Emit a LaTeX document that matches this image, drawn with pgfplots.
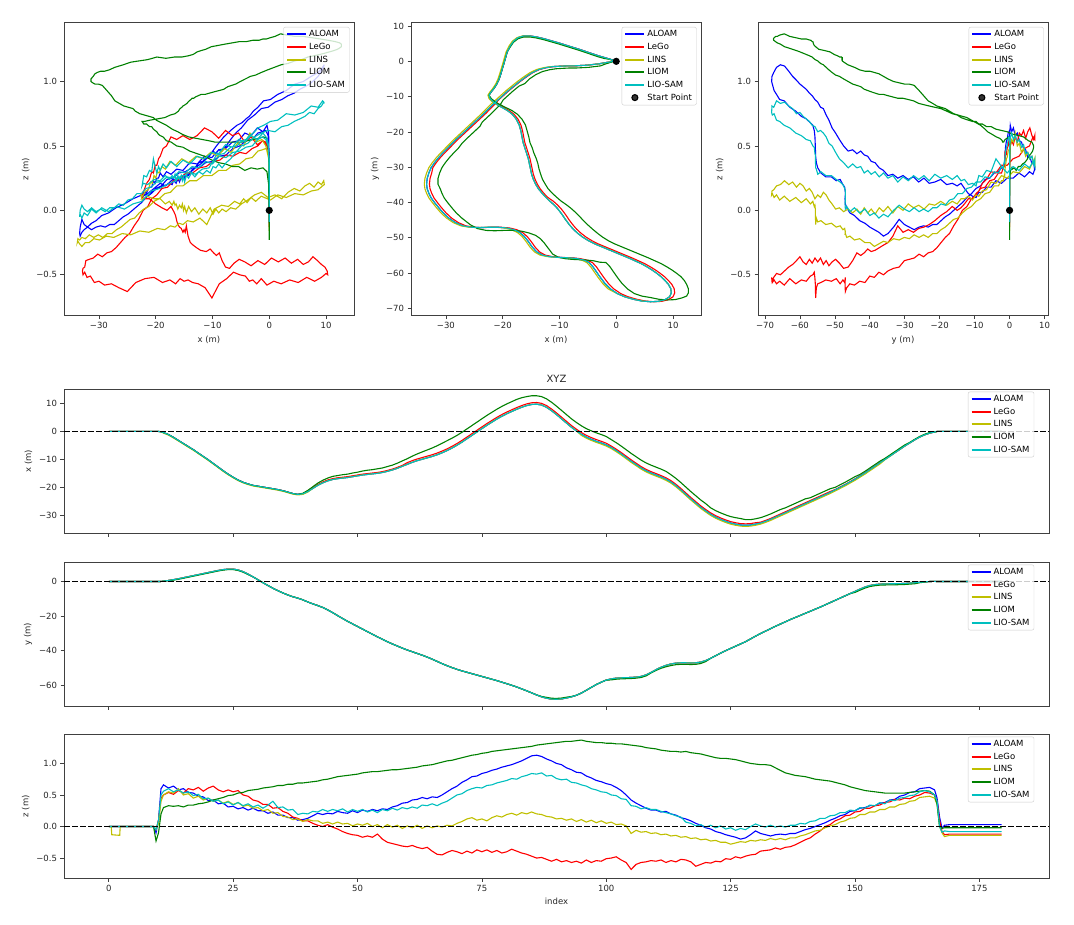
\documentclass[border=0pt]{standalone}
\usepackage{fontspec}
\setmainfont{DejaVu Sans}
\usepackage{pgfplots}
\usepackage{pgfplotstable}
\pgfplotsset{compat=1.18}
\definecolor{cA}{HTML}{0000FF}
\definecolor{cG}{HTML}{FF0000}
\definecolor{cS}{HTML}{BFBF00}
\definecolor{cM}{HTML}{008000}
\definecolor{cC}{HTML}{00BFBF}

\pgfplotstableread{
t x y xg xs xm ym za zg zs zm zc
0 0 0 0 0 0 0 0 0 0 0 0
0.5 0 0 0 0 0 0 0 0 0 0 0
0.6 0 0 0 0 0 0 0 0 -0.13 0 0
2.2 0 0 0 0 0 0 0 0 -0.14 0 0
2.3 0 0 0 0 0 0 0 0 0 0 0
9 0 0 0 0 0 0 0 0 0 0 0
9.5 0 0 0 0 0 0 -0.1 -0.05 -0.05 -0.23 -0.05
10 0 0 0 0 0 0 0.1 0.1 0.05 -0.1 0.1
10.5 -0.1 0.05 -0.1 -0.1 -0.1 0.05 0.6 0.45 0.4 0.2 0.5
11 -0.4 0.2 -0.4 -0.6 -0.4 0.2 0.66 0.5 0.5 0.3 0.56
12 -1.1 0.6 -1.1 -1.3 -1.1 0.6 0.61 0.54 0.55 0.33 0.6
13 -2.1 1.1 -2.1 -2.3 -2.1 0.8 0.64 0.51 0.53 0.32 0.55
14 -3.2 1.6 -3.2 -3.4 -3.2 1.3 0.58 0.57 0.6 0.33 0.58
15 -4.3 2.2 -4.3 -4.5 -4.3 1.9 0.6 0.53 0.5 0.31 0.53
16 -5.4 2.8 -5.4 -5.6 -5.4 2.5 0.54 0.6 0.52 0.34 0.55
17 -6.5 3.4 -6.5 -6.7 -6.5 3.1 0.53 0.58 0.45 0.34 0.49
18 -7.7 4.0 -7.7 -7.9 -7.7 3.7 0.48 0.62 0.48 0.36 0.51
19 -8.9 4.6 -8.9 -9.1 -8.9 4.3 0.47 0.56 0.42 0.37 0.44
20 -10.1 5.2 -10.1 -10.3 -10.1 4.9 0.41 0.61 0.45 0.39 0.45
21 -11.4 5.8 -11.4 -11.6 -11.4 5.5 0.42 0.64 0.4 0.42 0.4
22 -12.7 6.4 -12.7 -12.9 -12.7 6.1 0.36 0.58 0.42 0.44 0.42
23 -14.0 6.9 -14.0 -14.2 -14.0 6.6 0.37 0.55 0.37 0.46 0.36
24 -15.2 7.2 -15.2 -15.4 -15.2 6.9 0.31 0.58 0.4 0.49 0.39
25 -16.3 7.2 -16.3 -16.5 -16.3 6.9 0.32 0.55 0.35 0.5 0.34
26 -17.3 6.7 -17.3 -17.5 -17.3 6.4 0.28 0.57 0.38 0.53 0.38
27 -18.1 5.7 -18.1 -18.3 -18.1 5.4 0.3 0.5 0.32 0.54 0.33
28 -18.7 4.3 -18.7 -18.9 -18.7 4.0 0.26 0.48 0.34 0.57 0.36
29 -19.2 2.7 -19.2 -19.4 -19.2 2.7 0.29 0.42 0.29 0.58 0.31
30 -19.5 1.0 -19.5 -19.7 -19.5 1.0 0.25 0.4 0.3 0.59 0.34
31 -19.8 -0.7 -19.8 -20.0 -19.8 -0.7 0.25 0.35 0.25 0.61 0.29
32 -20.1 -2.3 -20.1 -20.3 -20.1 -2.3 0.21 0.35 0.27 0.62 0.34
33 -20.4 -3.9 -20.4 -20.6 -20.4 -3.9 0.23 0.29 0.21 0.63 0.4
34 -20.7 -5.3 -20.7 -20.9 -20.7 -5.3 0.18 0.3 0.22 0.65 0.3
35 -21.1 -6.6 -21.1 -21.3 -21.1 -6.6 0.18 0.24 0.16 0.65 0.31
36 -21.6 -7.8 -21.6 -21.8 -21.6 -7.8 0.14 0.21 0.15 0.67 0.26
37 -22.1 -8.8 -22.1 -22.3 -22.1 -8.8 0.14 0.15 0.11 0.67 0.27
38 -22.4 -9.6 -22.4 -22.6 -22.4 -9.6 0.1 0.13 0.12 0.69 0.19
39 -22.2 -10.6 -22.2 -22.4 -22.0 -10.6 0.11 0.09 0.08 0.69 0.21
40 -21.4 -11.8 -21.1 -21.6 -21.0 -11.8 0.13 0.09 0.11 0.7 0.2
41 -20.3 -12.9 -20.0 -20.3 -19.7 -12.9 0.17 0.05 0.09 0.71 0.24
42 -19.2 -13.9 -18.9 -19.2 -18.4 -13.9 0.21 0.02 0.09 0.72 0.23
43 -18.3 -15.0 -18.0 -18.3 -17.4 -15.0 0.19 0.0 0.05 0.74 0.27
44 -17.6 -16.4 -17.3 -17.6 -16.6 -16.4 0.21 0.03 0.07 0.75 0.24
45 -17.1 -18.0 -16.8 -17.1 -16.0 -18.0 0.2 -0.01 0.04 0.77 0.27
46 -16.8 -19.7 -16.5 -16.8 -15.7 -19.7 0.24 -0.04 0.07 0.79 0.25
47 -16.6 -21.4 -16.3 -16.6 -15.4 -21.4 0.22 -0.08 0.04 0.8 0.28
48 -16.4 -23.0 -16.1 -16.4 -15.2 -23.0 0.21 -0.11 0.05 0.81 0.23
49 -16.1 -24.5 -15.8 -16.1 -14.8 -24.5 0.25 -0.13 0.01 0.82 0.27
50 -15.8 -26.0 -15.5 -15.8 -14.5 -26.0 0.22 -0.14 0.04 0.83 0.24
51 -15.5 -27.5 -15.2 -15.5 -14.1 -27.5 0.26 -0.17 0.02 0.85 0.27
52 -15.3 -29.0 -15.0 -15.3 -13.8 -29.0 0.24 -0.15 0.05 0.86 0.23
53 -15.1 -30.5 -14.8 -15.1 -13.6 -30.5 0.27 -0.17 0.0 0.87 0.26
54 -14.9 -32.0 -14.6 -14.9 -13.3 -32.0 0.25 -0.12 0.03 0.87 0.22
55 -14.6 -33.4 -14.3 -14.6 -13.0 -33.4 0.28 -0.2 -0.02 0.88 0.27
56 -14.2 -34.8 -13.9 -14.2 -12.5 -34.8 0.27 -0.25 0.03 0.89 0.25
57 -13.7 -36.1 -13.4 -13.7 -12.0 -36.1 0.31 -0.27 -0.01 0.9 0.29
58 -13.1 -37.3 -12.8 -13.1 -11.3 -37.3 0.33 -0.29 0.02 0.9 0.26
59 -12.4 -38.5 -12.1 -12.4 -10.5 -38.5 0.37 -0.31 -0.03 0.91 0.3
60 -11.7 -39.6 -11.1 -11.7 -9.7 -39.6 0.38 -0.32 0.01 0.92 0.28
61 -11.0 -40.6 -10.4 -11.0 -8.8 -40.6 0.42 -0.3 -0.02 0.93 0.31
62 -10.4 -41.6 -9.8 -10.4 -8.0 -41.6 0.43 -0.33 0.02 0.94 0.29
63 -9.9 -42.6 -9.3 -9.9 -7.3 -42.6 0.46 -0.35 -0.03 0.96 0.34
64 -9.4 -43.7 -8.8 -9.4 -6.6 -43.7 0.44 -0.33 0.01 0.97 0.33
65 -8.9 -44.9 -8.3 -8.9 -5.9 -44.9 0.47 -0.39 -0.02 0.98 0.36
66 -8.3 -46.2 -7.7 -8.3 -5.1 -46.2 0.46 -0.44 0.01 1.0 0.33
67 -7.6 -47.5 -7.0 -7.6 -4.2 -47.5 0.5 -0.45 -0.01 1.02 0.37
68 -6.8 -48.7 -6.2 -6.8 -3.3 -48.7 0.55 -0.41 0.02 1.04 0.4
69 -5.9 -49.8 -5.3 -5.9 -2.4 -49.8 0.6 -0.38 0.01 1.05 0.45
70 -4.9 -50.8 -4.3 -4.9 -1.4 -50.8 0.64 -0.4 0.05 1.07 0.5
71 -3.8 -51.7 -3.2 -3.8 -0.3 -51.7 0.7 -0.43 0.08 1.09 0.52
72 -2.6 -52.5 -2.0 -2.6 0.9 -52.5 0.74 -0.39 0.12 1.11 0.57
73 -1.4 -53.3 -0.8 -1.4 2.1 -53.3 0.79 -0.42 0.14 1.13 0.6
74 -0.2 -54.1 0.4 -0.2 3.3 -54.1 0.8 -0.37 0.1 1.14 0.62
75 1.0 -54.9 1.6 1.0 4.5 -54.9 0.84 -0.4 0.12 1.16 0.61
76 2.2 -55.7 2.8 2.2 5.7 -55.7 0.86 -0.37 0.09 1.17 0.65
77 3.3 -56.5 3.9 3.3 6.8 -56.5 0.89 -0.41 0.14 1.19 0.66
78 4.4 -57.3 5.0 4.4 7.9 -57.3 0.91 -0.38 0.17 1.2 0.69
79 5.4 -58.2 6.0 5.4 8.9 -58.2 0.94 -0.42 0.15 1.21 0.71
80 6.3 -59.1 6.9 6.3 9.8 -59.1 0.96 -0.4 0.19 1.22 0.73
81 7.1 -60.0 7.7 7.1 10.6 -60.0 0.98 -0.36 0.21 1.23 0.76
82 7.9 -61.0 8.5 7.9 11.4 -61.0 1.01 -0.39 0.18 1.24 0.75
83 8.6 -62.1 9.2 8.6 12.0 -62.1 1.04 -0.42 0.22 1.25 0.79
84 9.2 -63.2 9.8 9.2 12.4 -63.2 1.08 -0.44 0.2 1.26 0.81
85 9.6 -64.4 10.2 9.6 12.7 -64.4 1.12 -0.47 0.23 1.27 0.84
86 9.7 -65.6 10.3 9.7 12.7 -65.6 1.13 -0.5 0.2 1.29 0.83
87 9.4 -66.7 10.0 9.4 12.4 -66.5 1.11 -0.49 0.19 1.3 0.85
88 8.6 -67.5 9.2 8.6 11.6 -67.0 1.07 -0.52 0.16 1.31 0.8
89 7.4 -68.0 8.0 7.4 10.4 -67.5 1.04 -0.55 0.15 1.32 0.81
90 6.0 -68.1 6.6 6.0 9.0 -67.6 1.0 -0.52 0.12 1.33 0.76
91 4.5 -67.9 5.1 4.5 7.5 -67.4 0.98 -0.56 0.13 1.34 0.74
92 3.0 -67.4 3.6 3.0 6.0 -66.9 0.93 -0.54 0.1 1.35 0.75
93 1.5 -66.7 2.1 1.5 4.5 -66.5 0.9 -0.57 0.12 1.35 0.7
94 0.2 -65.8 0.8 0.2 3.2 -65.8 0.86 -0.55 0.08 1.36 0.69
95 -1.0 -64.5 -0.4 -1.4 2.0 -64.5 0.85 -0.58 0.11 1.37 0.66
96 -2.0 -62.9 -1.4 -2.4 1.0 -62.9 0.8 -0.53 0.07 1.35 0.64
97 -2.8 -61.2 -2.2 -3.2 0.2 -61.2 0.77 -0.57 0.1 1.34 0.6
98 -3.5 -59.6 -2.9 -3.9 -0.5 -59.6 0.73 -0.54 0.06 1.33 0.58
99 -4.1 -58.2 -3.5 -4.5 -1.1 -58.2 0.71 -0.55 0.09 1.33 0.55
100 -4.8 -57.0 -4.2 -5.2 -1.8 -57.0 0.68 -0.51 0.05 1.32 0.54
101 -5.7 -56.3 -5.2 -6.1 -2.9 -56.9 0.66 -0.5 0.07 1.32 0.5
102 -6.8 -55.9 -6.3 -7.2 -4.0 -56.5 0.62 -0.48 0.03 1.31 0.49
103 -8.0 -55.7 -7.5 -8.4 -5.2 -56.3 0.57 -0.53 0.04 1.31 0.44
104 -9.3 -55.6 -8.8 -9.7 -6.5 -56.2 0.5 -0.57 0.01 1.3 0.43
105 -10.6 -55.5 -10.1 -11.0 -7.8 -56.1 0.42 -0.68 -0.11 1.29 0.33
106 -11.8 -55.3 -11.3 -12.2 -9.0 -55.9 0.37 -0.6 -0.06 1.28 0.32
107 -13.0 -54.9 -12.5 -13.4 -10.2 -55.5 0.33 -0.57 -0.09 1.27 0.28
108 -14.0 -54.0 -13.5 -14.4 -11.2 -54.6 0.29 -0.56 -0.08 1.25 0.3
109 -14.8 -52.6 -14.3 -15.2 -12.0 -52.9 0.26 -0.54 -0.11 1.24 0.27
110 -15.5 -51.0 -15.0 -15.9 -12.7 -51.4 0.26 -0.55 -0.1 1.23 0.27
111 -16.2 -49.6 -15.7 -16.6 -13.4 -50.2 0.23 -0.53 -0.13 1.21 0.24
112 -17.0 -48.5 -16.5 -17.4 -14.2 -49.3 0.24 -0.57 -0.12 1.2 0.22
113 -18.0 -47.7 -17.5 -18.4 -15.4 -48.6 0.2 -0.54 -0.15 1.19 0.2
114 -19.3 -47.2 -18.8 -19.7 -16.7 -48.1 0.18 -0.56 -0.14 1.19 0.17
115 -20.8 -47.0 -20.3 -21.2 -18.2 -47.9 0.14 -0.52 -0.17 1.18 0.15
116 -22.4 -47.0 -21.9 -22.8 -19.8 -47.9 0.12 -0.53 -0.16 1.19 0.07
117 -24.0 -47.1 -23.5 -24.4 -21.4 -48.0 0.09 -0.56 -0.19 1.17 0.05
118 -25.5 -47.0 -25.0 -25.9 -22.9 -47.9 0.05 -0.63 -0.18 1.16 0.01
119 -27.0 -46.6 -26.5 -27.4 -24.4 -47.4 0.02 -0.6 -0.21 1.15 0.03
120 -28.3 -45.7 -27.8 -28.7 -25.7 -46.3 -0.02 -0.57 -0.2 1.13 -0.01
121 -29.5 -44.4 -29.0 -29.9 -27.2 -44.4 -0.04 -0.58 -0.23 1.11 0.02
122 -30.5 -42.9 -30.0 -30.9 -28.2 -42.9 -0.08 -0.55 -0.22 1.09 -0.02
123 -31.3 -41.4 -30.8 -31.7 -29.0 -41.4 -0.1 -0.56 -0.25 1.08 0.01
124 -32.0 -40.0 -31.5 -32.4 -29.7 -40.0 -0.13 -0.51 -0.25 1.08 -0.04
125 -32.6 -38.7 -32.1 -33.0 -30.3 -38.7 -0.15 -0.52 -0.28 1.07 -0.02
126 -33.0 -37.4 -32.5 -33.4 -30.7 -37.4 -0.17 -0.48 -0.26 1.06 -0.06
127 -33.3 -36.1 -32.8 -33.7 -31.0 -36.1 -0.2 -0.5 -0.24 1.04 -0.03
128 -33.4 -34.8 -32.9 -33.8 -31.4 -34.8 -0.18 -0.47 -0.25 1.02 -0.05
129 -33.3 -33.2 -32.8 -33.7 -31.4 -33.2 -0.13 -0.45 -0.22 1.0 0.0
130 -33.0 -31.6 -32.5 -33.4 -31.1 -31.6 -0.07 -0.44 -0.23 0.99 0.04
131 -32.6 -30.1 -32.3 -33.0 -30.7 -30.1 -0.11 -0.39 -0.21 0.98 0.01
132 -32.0 -28.7 -31.7 -32.4 -30.1 -28.7 -0.13 -0.38 -0.22 0.98 -0.01
133 -31.3 -27.3 -31.0 -31.7 -29.4 -27.3 -0.15 -0.37 -0.19 0.97 0.02
134 -30.5 -25.9 -30.2 -30.9 -28.6 -25.9 -0.13 -0.34 -0.21 0.93 -0.01
135 -29.7 -24.6 -29.4 -30.1 -27.8 -24.6 -0.12 -0.36 -0.19 0.89 0.01
136 -28.9 -23.3 -28.6 -29.3 -27.2 -23.3 -0.13 -0.33 -0.21 0.85 -0.01
137 -28.1 -22.0 -27.8 -28.5 -26.4 -22.0 -0.11 -0.32 -0.18 0.83 0.02
138 -27.3 -20.8 -27.0 -27.7 -25.6 -20.8 -0.11 -0.29 -0.18 0.81 0.02
139 -26.5 -19.6 -26.2 -26.9 -24.8 -19.6 -0.08 -0.25 -0.15 0.8 0.05
140 -25.7 -18.4 -25.4 -26.1 -24.0 -18.4 -0.05 -0.21 -0.13 0.79 0.04
141 -24.9 -17.2 -24.6 -25.3 -23.6 -17.2 -0.03 -0.18 -0.1 0.77 0.08
142 -24.1 -16.0 -23.8 -24.5 -22.8 -16.0 0.0 -0.12 -0.07 0.75 0.09
143 -23.3 -14.8 -23.0 -23.7 -22.0 -14.8 0.03 -0.07 -0.06 0.74 0.13
144 -22.5 -13.5 -22.2 -22.9 -21.2 -13.5 0.06 0.0 -0.02 0.73 0.13
145 -21.7 -12.2 -21.4 -22.1 -20.4 -12.2 0.1 0.03 0.01 0.72 0.17
146 -20.8 -10.9 -20.7 -21.2 -19.9 -10.9 0.13 0.09 0.03 0.7 0.18
147 -19.9 -9.6 -19.8 -20.3 -19.0 -9.6 0.17 0.12 0.07 0.68 0.22
148 -19.0 -8.3 -18.9 -19.4 -18.1 -8.3 0.19 0.17 0.09 0.66 0.22
149 -18.0 -7.0 -17.9 -18.4 -17.1 -7.0 0.24 0.18 0.13 0.63 0.26
150 -17.0 -5.7 -16.9 -17.4 -16.1 -6.3 0.25 0.23 0.14 0.61 0.25
151 -15.9 -4.4 -15.8 -16.3 -15.3 -5.0 0.29 0.24 0.19 0.59 0.3
152 -14.8 -3.2 -14.7 -15.2 -14.2 -3.8 0.3 0.29 0.19 0.57 0.29
153 -13.6 -2.3 -13.5 -14.0 -13.0 -2.9 0.33 0.29 0.23 0.56 0.34
154 -12.4 -1.8 -12.3 -12.8 -11.8 -2.4 0.33 0.33 0.23 0.55 0.33
155 -11.2 -1.5 -11.1 -11.6 -10.6 -2.1 0.37 0.34 0.27 0.54 0.38
156 -10.0 -1.4 -9.9 -10.1 -9.6 -2.0 0.38 0.38 0.27 0.53 0.36
157 -8.8 -1.3 -8.7 -8.9 -8.4 -1.9 0.42 0.39 0.31 0.53 0.42
158 -7.6 -1.3 -7.6 -7.6 -7.2 -1.9 0.43 0.43 0.31 0.53 0.41
159 -6.4 -1.2 -6.4 -6.4 -6.0 -1.8 0.48 0.42 0.35 0.53 0.45
160 -5.2 -1.1 -5.2 -5.2 -4.8 -1.7 0.5 0.45 0.36 0.53 0.46
161 -4.1 -0.9 -4.1 -4.1 -3.9 -1.5 0.54 0.44 0.4 0.54 0.49
162 -3.0 -0.7 -3.0 -3.0 -2.8 -1.3 0.55 0.48 0.41 0.55 0.5
163 -2.0 -0.4 -2.0 -2.0 -1.8 -0.7 0.6 0.5 0.46 0.56 0.55
164 -1.2 -0.2 -1.2 -1.2 -1.0 -0.3 0.61 0.54 0.47 0.57 0.57
165 -0.6 0.0 -0.6 -0.6 -0.4 0.0 0.62 0.53 0.48 0.56 0.55
166 -0.2 0.1 -0.2 -0.2 -0.2 0.1 0.58 0.5 0.45 0.5 0.5
166.5 0 0 0 0 0 0 0.45 0.4 0.35 0.35 0.4
167 0 0 0 0 0 0 0.15 0.1 0.0 0.0 0.0
167.5 0 0 0 0 0 0 -0.03 -0.08 -0.1 -0.03 -0.09
168 0 0 0 0 0 0 0.02 -0.13 -0.16 -0.02 -0.07
169 0 0 0 0 0 0 0.03 -0.12 -0.14 -0.02 -0.08
179.5 0 0 0 0 0 0 0.03 -0.12 -0.14 -0.02 -0.08
}\traj

\pgfplotsset{
  base/.style={
    scale only axis,
    axis line style={black!75, line width=0.8pt},
    tick style={black!75, line width=0.7pt},
    tick align=outside, major tick length=3.5pt,
    xtick pos=bottom, ytick pos=left,
    tick label style={font=\fontsize{8.5}{10}\selectfont, text=black!85},
    label style={font=\fontsize{8.5}{10}\selectfont, text=black!85},
    legend cell align=left,
    legend style={at={(0.985,0.985)}, anchor=north east, draw=black!20,
      rounded corners=2pt, fill=white, fill opacity=0.8, text opacity=1,
      font=\fontsize{8.5}{10}\selectfont, inner xsep=2.5pt, inner ysep=1.5pt,
      row sep=0.8pt},
    every axis plot/.append style={line width=1.1pt},
  },
  lgl/.style={legend image code/.code={\draw[#1, line width=2pt, draw opacity=1] (0pt,0pt) -- (19pt,0pt);}},
  pA/.style={draw=cA, lgl},
  pG/.style={draw=cG, lgl},
  pS/.style={draw=cS, lgl},
  pM/.style={draw=cM, lgl},
  pC/.style={draw=cC, lgl},
  startpt/.style={black, only marks, mark=*, mark size=3pt,
    legend image code/.code={\fill[black] (9.5pt,0pt) circle (3pt);}},
  zeroline/.style={black, line width=1.3pt, dash pattern=on 5.5pt off 2.5pt, forget plot},
}

\begin{document}
\begin{tikzpicture}
\useasboundingbox (0pt,0pt) rectangle (1074pt,-925pt);

% ---------- x-z ----------
\begin{axis}[base, at={(64pt,-315.5pt)}, anchor=south west, width=290pt, height=293pt,
  xmin=-36.15, xmax=14.93, ymin=-0.816, ymax=1.458,
  xtick={-30,-20,-10,0,10}, xticklabels={−30,−20,−10,0,10},
  ytick={-0.5,0,0.5,1}, yticklabels={−0.5,0.0,0.5,1.0},
  xlabel={x (m)}, ylabel={z (m)}]
\addplot[pA] table[x=x,y=za]{\traj}; \addlegendentry{ALOAM}
\addplot[pG] table[x=xg,y=zg]{\traj}; \addlegendentry{LeGo}
\addplot[pS] table[x=xs,y=zs]{\traj}; \addlegendentry{LINS}
\addplot[pM] table[x=xm,y=zm]{\traj}; \addlegendentry{LIOM}
\addplot[pC] table[x=x,y=zc]{\traj}; \addlegendentry{LIO-SAM}
\addplot[startpt, forget plot] coordinates {(0,0)};
\end{axis}

% ---------- x-y ----------
\begin{axis}[base, at={(411pt,-315.5pt)}, anchor=south west, width=290pt, height=293pt,
  xmin=-36.15, xmax=14.93, ymin=-72, ymax=11,
  xtick={-30,-20,-10,0,10}, xticklabels={−30,−20,−10,0,10},
  ytick={-70,-60,-50,-40,-30,-20,-10,0,10},
  yticklabels={−70,−60,−50,−40,−30,−20,−10,0,10},
  xlabel={x (m)}, ylabel={y (m)}]
\addplot[pA] table[x=x,y=y]{\traj}; \addlegendentry{ALOAM}
\addplot[pG] table[x=xg,y=y]{\traj}; \addlegendentry{LeGo}
\addplot[pS] table[x=xs,y=y]{\traj}; \addlegendentry{LINS}
\addplot[pM] table[x=xm,y=ym]{\traj}; \addlegendentry{LIOM}
\addplot[pC] table[x=x,y=y]{\traj}; \addlegendentry{LIO-SAM}
\addplot[startpt] coordinates {(0,0)}; \addlegendentry{Start Point}
\end{axis}

% ---------- y-z ----------
\begin{axis}[base, at={(758pt,-315.5pt)}, anchor=south west, width=290pt, height=293pt,
  xmin=-72, xmax=11, ymin=-0.816, ymax=1.458,
  xtick={-70,-60,-50,-40,-30,-20,-10,0,10},
  xticklabels={−70,−60,−50,−40,−30,−20,−10,0,10},
  ytick={-0.5,0,0.5,1}, yticklabels={−0.5,0.0,0.5,1.0},
  xlabel={y (m)}, ylabel={z (m)}]
\addplot[pA] table[x=y,y=za]{\traj}; \addlegendentry{ALOAM}
\addplot[pG] table[x=y,y=zg]{\traj}; \addlegendentry{LeGo}
\addplot[pS] table[x=y,y=zs]{\traj}; \addlegendentry{LINS}
\addplot[pM] table[x=ym,y=zm]{\traj}; \addlegendentry{LIOM}
\addplot[pC] table[x=y,y=zc]{\traj}; \addlegendentry{LIO-SAM}
\addplot[startpt] coordinates {(0,0)}; \addlegendentry{Start Point}
\end{axis}

% ---------- x(t) ----------
\begin{axis}[base, at={(64pt,-533pt)}, anchor=south west, width=985pt, height=143.5pt,
  xmin=-9, xmax=189, ymin=-36.15, ymax=14.93,
  xtick={0,25,50,75,100,125,150,175}, xticklabels={},
  ytick={-30,-20,-10,0,10}, yticklabels={−30,−20,−10,0,10},
  ylabel={x (m)}, title={XYZ},
  title style={font=\fontsize{10}{12}\selectfont, text=black!85, yshift=-3pt}]
\addplot[pA] table[x=t,y=x]{\traj}; \addlegendentry{ALOAM}
\addplot[pG] table[x=t,y=xg]{\traj}; \addlegendentry{LeGo}
\addplot[pS] table[x=t,y=xs]{\traj}; \addlegendentry{LINS}
\addplot[pM] table[x=t,y=xm]{\traj}; \addlegendentry{LIOM}
\addplot[pC] table[x=t,y=x]{\traj}; \addlegendentry{LIO-SAM}
\addplot[zeroline] coordinates {(-9,0) (189,0)};
\end{axis}

% ---------- y(t) ----------
\begin{axis}[base, at={(64pt,-706pt)}, anchor=south west, width=985pt, height=143.5pt,
  xmin=-9, xmax=189, ymin=-72, ymax=11,
  xtick={0,25,50,75,100,125,150,175}, xticklabels={},
  ytick={-60,-40,-20,0}, yticklabels={−60,−40,−20,0},
  ylabel={y (m)}]
\addplot[pA] table[x=t,y=y]{\traj}; \addlegendentry{ALOAM}
\addplot[pG] table[x=t,y=y]{\traj}; \addlegendentry{LeGo}
\addplot[pS] table[x=t,y=y]{\traj}; \addlegendentry{LINS}
\addplot[pM] table[x=t,y=ym]{\traj}; \addlegendentry{LIOM}
\addplot[pC] table[x=t,y=y]{\traj}; \addlegendentry{LIO-SAM}
\addplot[zeroline] coordinates {(-9,0) (189,0)};
\end{axis}

% ---------- z(t) ----------
\begin{axis}[base, at={(64pt,-878pt)}, anchor=south west, width=985pt, height=143.5pt,
  xmin=-9, xmax=189, ymin=-0.816, ymax=1.458,
  xtick={0,25,50,75,100,125,150,175}, xticklabels={0,25,50,75,100,125,150,175},
  ytick={-0.5,0,0.5,1}, yticklabels={−0.5,0.0,0.5,1.0},
  xlabel={index}, ylabel={z (m)}]
\addplot[pA] table[x=t,y=za]{\traj}; \addlegendentry{ALOAM}
\addplot[pG] table[x=t,y=zg]{\traj}; \addlegendentry{LeGo}
\addplot[pS] table[x=t,y=zs]{\traj}; \addlegendentry{LINS}
\addplot[pM] table[x=t,y=zm]{\traj}; \addlegendentry{LIOM}
\addplot[pC] table[x=t,y=zc]{\traj}; \addlegendentry{LIO-SAM}
\addplot[zeroline] coordinates {(-9,0) (189,0)};
\end{axis}
\end{tikzpicture}
\end{document}
